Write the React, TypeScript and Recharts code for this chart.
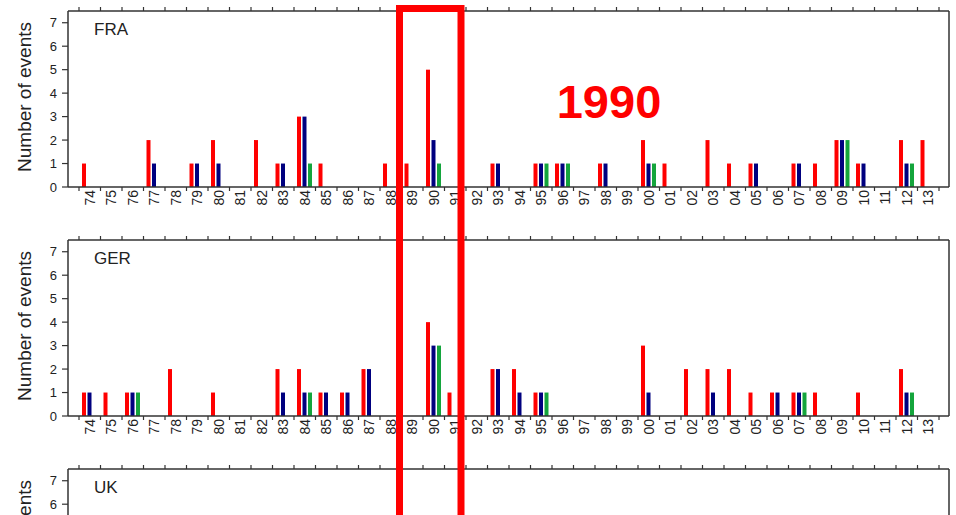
import React from 'react';
import { BarChart, Bar, XAxis, YAxis } from 'recharts';

// two-digit years, 1974 .. 2013
const years = [
  '74', '75', '76', '77', '78', '79', '80', '81', '82', '83',
  '84', '85', '86', '87', '88', '89', '90', '91', '92', '93',
  '94', '95', '96', '97', '98', '99', '00', '01', '02', '03',
  '04', '05', '06', '07', '08', '09', '10', '11', '12', '13',
];

const fraRed = [1, 0, 0, 2, 0, 1, 2, 0, 2, 1, 3, 1, 0, 0, 1, 1, 5, 0, 0, 1, 0, 1, 1, 0, 1, 0, 2, 1, 0, 2, 1, 1, 0, 1, 1, 2, 1, 0, 2, 2];
const fraNavy = [0, 0, 0, 1, 0, 1, 1, 0, 0, 1, 3, 0, 0, 0, 0, 0, 2, 0, 0, 1, 0, 1, 1, 0, 1, 0, 1, 0, 0, 0, 0, 1, 0, 1, 0, 2, 1, 0, 1, 0];
const fraGreen = [0, 0, 0, 0, 0, 0, 0, 0, 0, 0, 1, 0, 0, 0, 0, 0, 1, 0, 0, 0, 0, 1, 1, 0, 0, 0, 1, 0, 0, 0, 0, 0, 0, 0, 0, 2, 0, 0, 1, 0];

const gerRed = [1, 1, 1, 0, 2, 0, 1, 0, 0, 2, 2, 1, 1, 2, 0, 0, 4, 1, 0, 2, 2, 1, 0, 0, 0, 0, 3, 0, 2, 2, 2, 1, 1, 1, 1, 0, 1, 0, 2, 0];
const gerNavy = [1, 0, 1, 0, 0, 0, 0, 0, 0, 1, 1, 1, 1, 2, 0, 0, 3, 0, 0, 2, 1, 1, 0, 0, 0, 0, 1, 0, 0, 1, 0, 0, 1, 1, 0, 0, 0, 0, 1, 0];
const gerGreen = [0, 0, 1, 0, 0, 0, 0, 0, 0, 0, 1, 0, 0, 0, 0, 0, 3, 0, 0, 0, 0, 1, 0, 0, 0, 0, 0, 0, 0, 0, 0, 0, 0, 1, 0, 0, 0, 0, 1, 0];

// UK panel is cut off by the frame, no bars reach the visible part
const ukRed = [0, 0, 0, 0, 0, 0, 0, 0, 0, 0, 0, 0, 0, 0, 0, 0, 0, 0, 0, 0, 0, 0, 0, 0, 0, 0, 0, 0, 0, 0, 0, 0, 0, 0, 0, 0, 0, 0, 0, 0];
const ukNavy = [0, 0, 0, 0, 0, 0, 0, 0, 0, 0, 0, 0, 0, 0, 0, 0, 0, 0, 0, 0, 0, 0, 0, 0, 0, 0, 0, 0, 0, 0, 0, 0, 0, 0, 0, 0, 0, 0, 0, 0];
const ukGreen = [0, 0, 0, 0, 0, 0, 0, 0, 0, 0, 0, 0, 0, 0, 0, 0, 0, 0, 0, 0, 0, 0, 0, 0, 0, 0, 0, 0, 0, 0, 0, 0, 0, 0, 0, 0, 0, 0, 0, 0];

const yTicks = [0, 1, 2, 3, 4, 5, 6, 7];

const RED = '#ff0000';
const NAVY = '#00007f';
const GREEN = '#14a53c';
const AXIS = '#333333';
const TEXT = '#222222';
const FONT = '"Liberation Sans", Arial, Helvetica, sans-serif';

const W = 956;
const H = 217;
const Y_AXIS_W = 68;
const RIGHT_W = 7;
const PAD_L = 11;
const PAD_R = 10;
const BAND = (W - Y_AXIS_W - RIGHT_W - PAD_L - PAD_R) / years.length;

const BottomTick = (props: any) => {
  const { x, y, payload, index } = props;
  return (
    <g>
      <line x1={x - BAND / 2} x2={x - BAND / 2} y1={y} y2={y + 4} stroke={AXIS} strokeWidth={1.2} />
      {index === years.length - 1 && (
        <line x1={x + BAND / 2} x2={x + BAND / 2} y1={y} y2={y + 4} stroke={AXIS} strokeWidth={1.2} />
      )}
      <text
        transform={`translate(${x},${y + 3}) rotate(-90)`}
        textAnchor="end"
        dominantBaseline="central"
        fontSize={14}
        fontFamily={FONT}
        fill={TEXT}
      >
        {payload.value}
      </text>
    </g>
  );
};

const TopTick = (props: any) => {
  const { x, y, index } = props;
  return (
    <g>
      <line x1={x - BAND / 2} x2={x - BAND / 2} y1={y} y2={y - 4} stroke={AXIS} strokeWidth={1.2} />
      {index === years.length - 1 && (
        <line x1={x + BAND / 2} x2={x + BAND / 2} y1={y} y2={y - 4} stroke={AXIS} strokeWidth={1.2} />
      )}
    </g>
  );
};

const YLabel = (props: any) => {
  const { viewBox } = props;
  const cy = viewBox.y + viewBox.height / 2 - 2;
  return (
    <text
      transform={`translate(24,${cy}) rotate(-90)`}
      textAnchor="middle"
      dominantBaseline="central"
      fontSize={19}
      fontFamily={FONT}
      fill={TEXT}
    >
      Number of events
    </text>
  );
};

interface PanelProps {
  top: number;
  red: number[];
  navy: number[];
  green: number[];
}

const Panel: React.FC<PanelProps> = ({ top, red, navy, green }) => {
  const data = years.map((year, i) => ({ year, red: red[i], navy: navy[i], green: green[i] }));
  const axisLine = { stroke: AXIS, strokeWidth: 1.5 };

  return (
    <div style={{ position: 'absolute', left: 0, top }}>
      <BarChart
        width={W}
        height={H}
        data={data}
        margin={{ top: 5, right: 0, left: 0, bottom: 0 }}
        barSize={4}
        barGap={1.5}
      >
        <XAxis
          dataKey="year"
          interval={0}
          padding={{ left: PAD_L, right: PAD_R }}
          height={30}
          tickSize={0}
          tickMargin={0}
          tickLine={false}
          axisLine={axisLine}
          tick={<BottomTick />}
        />
        <XAxis
          xAxisId="top"
          orientation="top"
          dataKey="year"
          interval={0}
          padding={{ left: PAD_L, right: PAD_R }}
          height={6}
          tickSize={0}
          tickMargin={0}
          tickLine={false}
          axisLine={axisLine}
          tick={<TopTick />}
        />
        <YAxis
          domain={[0, 7.5]}
          ticks={yTicks}
          width={Y_AXIS_W}
          tickSize={6}
          tickMargin={5}
          axisLine={axisLine}
          tickLine={{ stroke: AXIS, strokeWidth: 1.2 }}
          tick={{ fontSize: 13, fill: TEXT, fontFamily: FONT }}
          label={{ content: <YLabel /> }}
        />
        <YAxis
          yAxisId="r"
          orientation="right"
          domain={[0, 7.5]}
          ticks={yTicks}
          width={RIGHT_W}
          tickSize={5}
          axisLine={axisLine}
          tickLine={{ stroke: AXIS, strokeWidth: 1.2 }}
          tick={false}
        />
        <Bar dataKey="red" fill={RED} isAnimationActive={false} />
        <Bar dataKey="navy" fill={NAVY} isAnimationActive={false} />
        <Bar dataKey="green" fill={GREEN} isAnimationActive={false} />
      </BarChart>
    </div>
  );
};

const panels = [
  { name: 'FRA', top: 0, red: fraRed, navy: fraNavy, green: fraGreen },
  { name: 'GER', top: 229, red: gerRed, navy: gerNavy, green: gerGreen },
  { name: 'UK', top: 458, red: ukRed, navy: ukNavy, green: ukGreen },
];

export default function App() {
  return (
    <div
      style={{
        position: 'fixed',
        left: 0,
        top: 0,
        width: W,
        height: 515,
        overflow: 'hidden',
        background: '#fff',
        fontFamily: FONT,
      }}
    >
      {panels.map((p) => (
        <Panel key={p.name} top={p.top} red={p.red} navy={p.navy} green={p.green} />
      ))}
      <svg
        width={W}
        height={515}
        style={{ position: 'absolute', left: 0, top: 0, pointerEvents: 'none' }}
      >
        {panels.map((p) => (
          <text key={p.name} x={94} y={p.top + 35} fontSize={17} fontFamily={FONT} fill={TEXT}>
            {p.name}
          </text>
        ))}
        <rect x={399.5} y={8.5} width={61.5} height={600} fill="none" stroke={RED} strokeWidth={7} />
        <text x={609} y={118} textAnchor="middle" fontSize={47} fontWeight="bold" fontFamily={FONT} fill={RED}>
          1990
        </text>
      </svg>
    </div>
  );
}
